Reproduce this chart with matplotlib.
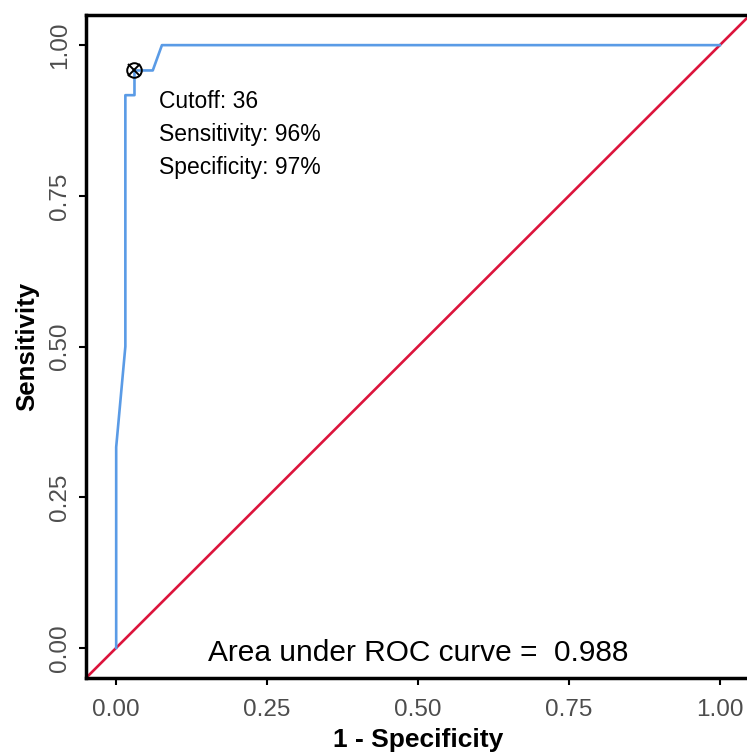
import matplotlib
matplotlib.use("Agg")
import matplotlib.pyplot as plt

plt.rcParams['font.family'] = ['Liberation Sans', 'DejaVu Sans']

# ROC curve points (1 - specificity, sensitivity)
fpr = [0.0, 0.0, 0.0152, 0.0152, 0.0303, 0.0303, 0.0606, 0.0758, 1.0]
tpr = [0.0, 0.333, 0.5, 0.917, 0.917, 0.958, 0.958, 1.0, 1.0]

# optimal cutoff
cut_x = [0.0303]
cut_y = [0.958]
cut_lines = ["Cutoff: 36", "Sensitivity: 96%", "Specificity: 97%"]
auc = 0.988

ticks = [0.0, 0.25, 0.5, 0.75, 1.0]
tick_labels = ["0.00", "0.25", "0.50", "0.75", "1.00"]

fig = plt.figure(figsize=(7.47, 7.52), dpi=100)
ax = fig.add_axes([86 / 747, 74 / 752, 664 / 747, 663 / 752])

ax.set_xlim(-0.05, 1.05)
ax.set_ylim(-0.05, 1.05)

# reference diagonal
ax.axline((0, 0), (1, 1), color='#DC143C', linewidth=1.9, zorder=2)

# ROC curve
ax.plot(fpr, tpr, color='#5A9BE6', linewidth=1.9, zorder=3)

# cutoff marker (circle with cross)
ax.plot(cut_x, cut_y, marker='o', markersize=10.5, markerfacecolor='none',
        markeredgecolor='black', markeredgewidth=1.4, linestyle='none', zorder=4)
ax.plot(cut_x, cut_y, marker='x', markersize=8, color='black',
        markeredgewidth=1.4, linestyle='none', zorder=4)

for i, t in enumerate(cut_lines):
    ax.text(0.071, 0.906 - i * 0.0546, t, fontsize=16.5, ha='left', va='center')

ax.text(0.5, -0.008, "Area under ROC curve =  " + str(auc), fontsize=21.5,
        ha='center', va='center')

ax.set_xticks(ticks)
ax.set_xticklabels(tick_labels)
ax.set_yticks(ticks)
ax.set_yticklabels(tick_labels, rotation=90, va='center')
ax.tick_params(axis='both', labelsize=17.5, labelcolor='#4D4D4D', length=5,
               width=1.5, color='black', pad=6)
ax.tick_params(axis='x', pad=10)

for s in ['left', 'bottom', 'top', 'right']:
    ax.spines[s].set_linewidth(2.5)
    ax.spines[s].set_color('black')

ax.set_xlabel('1 - Specificity', fontsize=19, fontweight='bold', labelpad=5)
ax.set_ylabel('Sensitivity', fontsize=18.5, fontweight='bold', labelpad=7)

fig.savefig('out.png', dpi=100)
